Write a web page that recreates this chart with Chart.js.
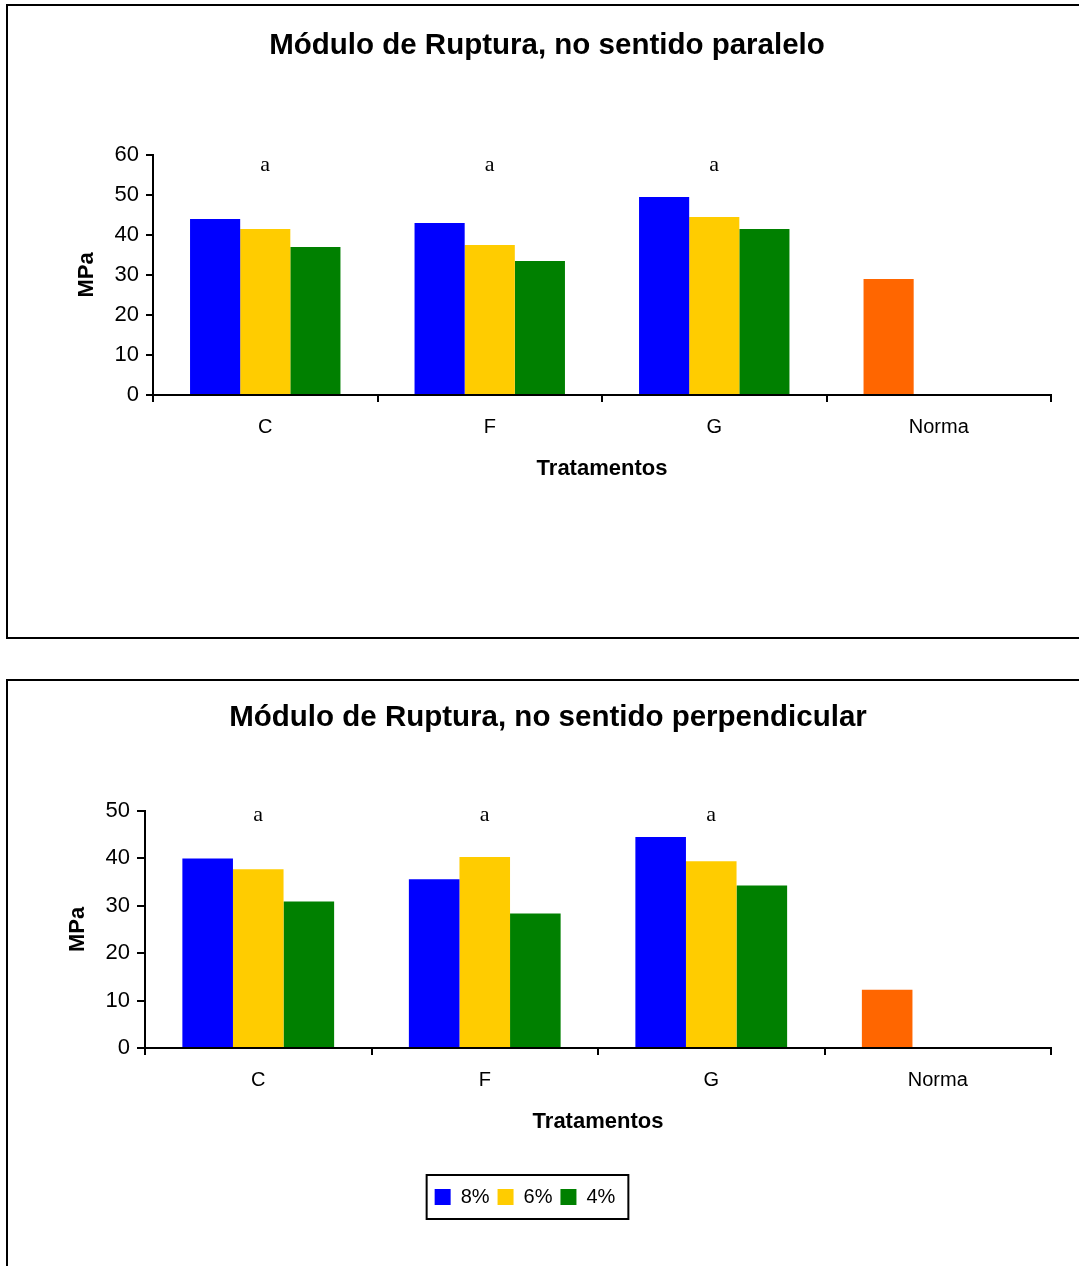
<!DOCTYPE html>
<html>
<head>
<meta charset="utf-8">
<script src="https://cdn.jsdelivr.net/npm/chart.js@4"></script>
<style>
	body { margin: 0; background: #fff; width: 1079px; height: 1266px; overflow: hidden; position: relative; }
	.moldura { position: absolute; left: 6px; width: 1100px; border: 2px solid #000; }
	canvas { position: absolute; left: 0; }
</style>
</head>
<body>
<div class="moldura" style="top:4px; height:631px;"></div>
<div class="moldura" style="top:679px; height:700px;"></div>
<canvas id="paralelo" width="1079" height="650" style="top:0px;"></canvas>
<canvas id="perpendicular" width="1079" height="616" style="top:650px;"></canvas>
<script>
var categorias = ['C', 'F', 'G', 'Norma'];
var letras = ['a', 'a', 'a', ''];

// Modulo de ruptura, sentido paralelo (MPa)
var paralelo8 = [44, 43, 49.5, 29];
var paralelo6 = [41.5, 37.5, 44.5, null];
var paralelo4 = [37, 33.5, 41.5, null];

// Modulo de ruptura, sentido perpendicular (MPa)
var perpendicular8 = [40, 35.6, 44.5, 12.3];
var perpendicular6 = [37.7, 40.3, 39.4, null];
var perpendicular4 = [30.9, 28.4, 34.3, null];

var ticksParalelo = [0, 10, 20, 30, 40, 50, 60];
var ticksPerpendicular = [0, 10, 20, 30, 40, 50];

var azul = '#0000FF', amarelo = '#FFCC00', verde = '#008000', laranja = '#FF6600';
var fonte = "'Liberation Sans', Arial, sans-serif";

Chart.defaults.font.family = fonte;
Chart.defaults.color = '#000';

function prepareData(s8, s6, s4) {
	return {
		labels: categorias,
		datasets: [{
			label: '8%',
			data: s8,
			// a barra da Norma usa a cor laranja
			backgroundColor: categorias.map(c => c == 'Norma' ? laranja : azul),
		}, {
			label: '6%',
			data: s6,
			backgroundColor: amarelo,
		}, {
			label: '4%',
			data: s4,
			backgroundColor: verde,
		}]
	};
}

const letrasPlugin = {
	id: 'letras',
	afterDatasetsDraw(chart, args, options) {
		const {ctx, chartArea, scales: {x}} = chart;
		ctx.save();
		ctx.font = "22px 'Liberation Serif', 'Times New Roman', serif";
		ctx.fillStyle = '#000';
		ctx.textAlign = 'center';
		ctx.textBaseline = 'middle';
		letras.forEach((t, i) => {
			ctx.fillText(t, x.getPixelForValue(i), chartArea.top + options.dy);
		});
		ctx.restore();
	}
};

// move o titulo e a legenda para onde estao no original
const posicaoPlugin = {
	id: 'posicao',
	afterLayout(chart, args, options) {
		const tb = chart.titleBlock;
		if (tb && options.titleCx) {
			const dx = options.titleCx - (tb.left + tb.right) / 2;
			tb.left += dx; tb.right += dx;
		}
		const lg = chart.legend;
		if (lg && options.cx) {
			const dx = options.cx - (lg.left + lg.right) / 2;
			const dy = options.cy - (lg.top + 8 + 10);
			lg.left += dx; lg.right += dx;
			lg.top += dy; lg.bottom += dy;
		}
	},
	afterDraw(chart, args, options) {
		const lg = chart.legend;
		if (!lg || !options.cx || !lg.legendHitBoxes.length) return;
		const hb = lg.legendHitBoxes;
		const left = hb[0].left - 8;
		const right = hb[hb.length - 1].left + hb[hb.length - 1].width + 13;
		const {ctx} = chart;
		ctx.save();
		ctx.strokeStyle = '#000';
		ctx.lineWidth = 2;
		ctx.strokeRect(left, options.cy - 22, right - left, 44);
		ctx.restore();
	}
};

function createChart(id, o) {
	return new Chart(document.getElementById(id), {
		type: 'bar',
		data: prepareData(o.s8, o.s6, o.s4),
		options: {
			responsive: false,
			animation: false,
			datasets: {
				bar: { categoryPercentage: 0.67, barPercentage: 1.0, borderWidth: 0 }
			},
			layout: { padding: o.padding },
			scales: {
				x: {
					grid: { offset: true, drawOnChartArea: false, color: '#000', lineWidth: 2, tickLength: 7 },
					border: { color: '#000', width: 2 },
					ticks: { font: { size: 20 }, padding: 13, color: '#000' },
					title: { display: true, text: 'Tratamentos', font: { size: 22, weight: 'bold' }, color: '#000' },
					afterFit: function(scale) { scale.height = 91; },
				},
				y: {
					min: 0, max: o.ticks[o.ticks.length - 1],
					afterBuildTicks: function(scale) { scale.ticks = o.ticks.map(v => ({value: v})); },
					grid: { drawOnChartArea: false, color: '#000', lineWidth: 2, tickLength: o.tickLen },
					border: { color: '#000', width: 2 },
					ticks: { font: { size: 22 }, padding: 7, color: '#000' },
					title: { display: true, text: 'MPa', font: { size: 22, weight: 'bold' }, color: '#000' },
					afterFit: function(scale) { scale.width = o.yWidth; },
				},
			},
			plugins: {
				title: {
					display: true,
					text: o.title,
					font: { size: 29.5, weight: 'bold' },
					color: '#000',
					padding: o.titlePadding,
				},
				legend: {
					display: o.legend,
					position: 'bottom',
					labels: { boxWidth: 16, boxHeight: 16, font: { size: 20 }, color: '#000', padding: 8 },
				},
				tooltip: { enabled: false },
				letras: { dy: o.letrasDy },
				posicao: o.posicao,
			},
		},
		plugins: [letrasPlugin, posicaoPlugin],
	});
}

createChart('paralelo', {
	s8: paralelo8, s6: paralelo6, s4: paralelo4,
	ticks: ticksParalelo,
	title: 'Módulo de Ruptura, no sentido paralelo',
	padding: { left: 70, right: 28, top: 0, bottom: 164 },
	titlePadding: { top: 28, bottom: 91.6 },
	yWidth: 83, tickLen: 7,
	letrasDy: 10,
	legend: false,
	posicao: { titleCx: 547 },
});

createChart('perpendicular', {
	s8: perpendicular8, s6: perpendicular6, s4: perpendicular4,
	ticks: ticksPerpendicular,
	title: 'Módulo de Ruptura, no sentido perpendicular',
	padding: { left: 61, right: 28, top: 0, bottom: 89 },
	titlePadding: { top: 50, bottom: 75.6 },
	yWidth: 84, tickLen: 8,
	letrasDy: 4,
	legend: true,
	posicao: { titleCx: 548, cx: 525, cy: 547 },
});
</script>
</body>
</html>
